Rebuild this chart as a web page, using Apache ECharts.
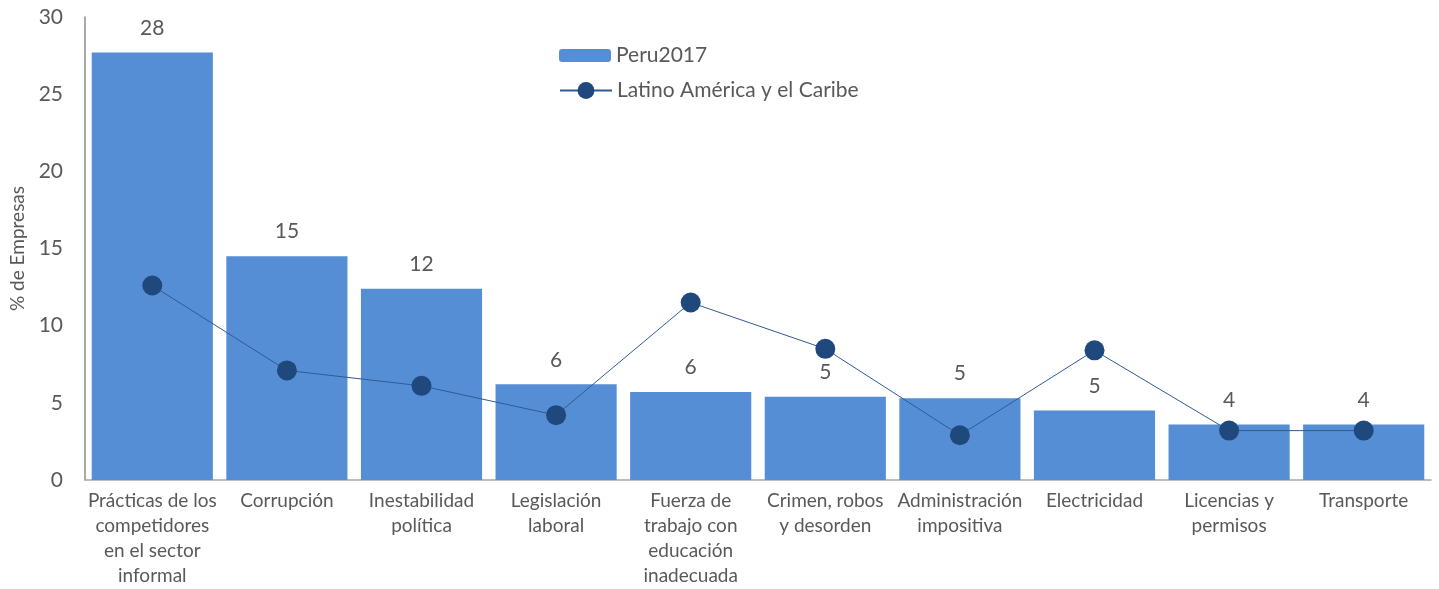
<!DOCTYPE html>
<html>
<head>
<meta charset="UTF-8">
<title>Obstáculos</title>
<script src="https://cdn.jsdelivr.net/npm/echarts@6/dist/echarts.min.js"></script>
<style>
  html, body { margin: 0; padding: 0; background: #fff; }
  #main { width: 1439px; height: 589px; }
</style>
</head>
<body>
<div id="main"></div>
<script type="text/javascript">
// categorias del eje x
var categorias = [
  'Prácticas de los\ncompetidores\nen el sector\ninformal',
  'Corrupción',
  'Inestabilidad\npolítica',
  'Legislación\nlaboral',
  'Fuerza de\ntrabajo con\neducación\ninadecuada',
  'Crimen, robos\ny desorden',
  'Administración\nimpositiva',
  'Electricidad',
  'Licencias y\npermisos',
  'Transporte'
];
var peru2017 = [27.7, 14.5, 12.4, 6.2, 5.7, 5.4, 5.3, 4.5, 3.6, 3.6];
var latam = [12.6, 7.1, 6.1, 4.2, 11.5, 8.5, 2.9, 8.4, 3.2, 3.2];
var ejeY = { min: 0, max: 30, interval: 5 };

var fuente = 'Lato';
var gris = '#595959';
var textoLeyenda = { fontFamily: fuente, fontSize: 21, color: gris };

var option = {
  animation: false,
  textStyle: { fontFamily: fuente },
  grid: { left: 82, right: 8, top: 17, bottom: 109 },
  legend: [
    {
      left: 554,
      top: 40,
      itemWidth: 52,
      itemHeight: 13,
      textStyle: textoLeyenda,
      data: ['Peru2017']
    },
    {
      left: 554,
      top: 75,
      itemWidth: 52,
      itemHeight: 21,
      textStyle: textoLeyenda,
      data: ['Latino América y el Caribe']
    }
  ],
  xAxis: {
    type: 'category',
    data: categorias,
    axisLine: { lineStyle: { color: '#a6a6a6', width: 1.5 } },
    axisTick: { show: false },
    axisLabel: {
      interval: 0,
      margin: 8,
      fontFamily: fuente,
      fontSize: 19,
      lineHeight: 25,
      color: gris
    }
  },
  yAxis: {
    type: 'value',
    min: ejeY.min,
    max: ejeY.max,
    interval: ejeY.interval,
    name: '% de Empresas',
    nameLocation: 'middle',
    nameGap: 58,
    nameTextStyle: { fontFamily: fuente, fontSize: 19, color: gris },
    axisLine: { show: true, lineStyle: { color: '#8c8c8c', width: 1.5 } },
    axisTick: { show: false },
    splitLine: { show: false },
    axisLabel: { fontFamily: fuente, fontSize: 21, color: gris, margin: 22 }
  },
  series: [
    {
      name: 'Peru2017',
      type: 'bar',
      data: peru2017,
      barCategoryGap: '10%',
      itemStyle: { color: '#558ed5' },
      label: {
        show: true,
        position: 'top',
        distance: 14,
        fontFamily: fuente,
        fontSize: 21,
        color: gris,
        formatter: function (p) { return Math.round(p.value); }
      }
    },
    {
      name: 'Latino América y el Caribe',
      type: 'line',
      data: latam,
      symbol: 'circle',
      symbolSize: 20,
      lineStyle: { color: '#2f5b96', width: 1 },
      itemStyle: { color: '#1f497d' },
      z: 3
    }
  ]
};

var chart = echarts.init(document.getElementById('main'));
chart.setOption(option);
</script>
</body>
</html>
